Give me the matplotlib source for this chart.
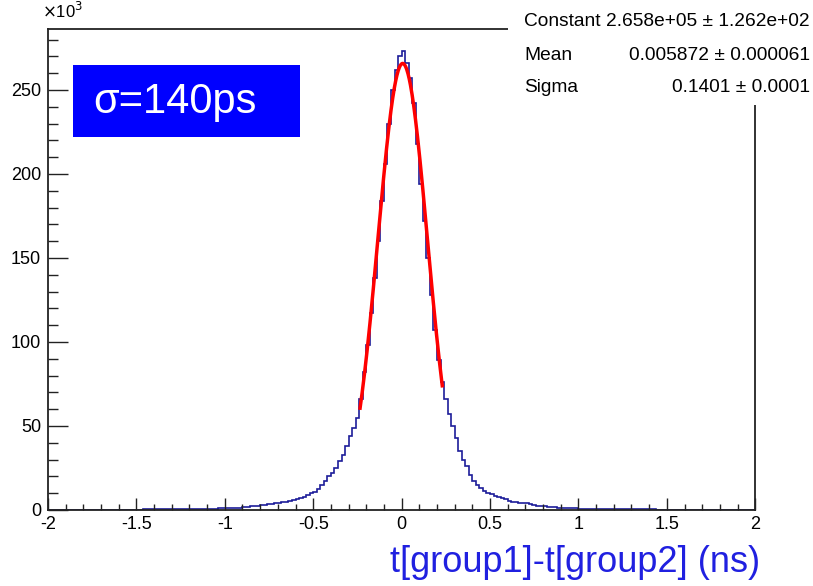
import numpy as np
import matplotlib.pyplot as plt
from matplotlib.patches import Rectangle
from matplotlib.ticker import MultipleLocator

plt.rcParams['font.family'] = ['Liberation Sans', 'DejaVu Sans']

# Histogram of t[group1]-t[group2], 200 bins from -2 to 2 ns, counts in units of 10^3
bin_edges = np.linspace(-2, 2, 201)
tail_left = [0.1, 0.1, 0.1, 0.1, 0.1, 0.1, 0.1, 0.1, 0.1, 0.1,
             0.1, 0.1, 0.1, 0.1, 0.2, 0.2, 0.2, 0.2, 0.2, 0.2,
             0.2, 0.2, 0.2, 0.2, 0.2, 0.2, 0.2, 0.3, 0.3, 0.3,
             0.3, 0.3, 0.3, 0.3, 0.3, 0.3, 0.3, 0.3, 0.3, 0.4,
             0.4, 0.4, 0.4, 0.4, 0.4, 0.4, 0.5]
core_left = [0.5, 0.9, 0.9, 1.0, 1.0, 1.1, 1.2, 1.3, 1.8, 2.0,
             2.2, 2.4, 2.6, 3.0, 3.2, 3.4, 3.7, 4.0, 4.4, 4.6,
             5.0, 5.5, 6.0, 6.4, 7.2, 8.0, 9.0, 10.0, 11.0, 12.5,
             15, 17, 20, 22, 25, 29, 33, 38, 44, 49,
             55, 66, 82, 98, 117, 138, 160, 184, 206, 230,
             250, 262, 270]
core_right = [273, 266, 257, 242, 218, 194, 172, 150, 128, 107,
              89, 76, 66, 57, 50, 43, 35, 30, 26, 21,
              17.5, 15, 13, 11.5, 10.3, 9.5, 8.5, 7.7, 7.0, 6.3,
              5.6, 5.0, 4.7, 4.4, 4.2, 4.0, 3.5, 3.0, 2.6, 2.4,
              2.2, 2.0, 1.8, 1.5, 1.4, 1.3, 1.2, 1.1, 1.0, 0.9,
              0.8, 0.6, 0.5]
tail_right = [0.5, 0.4, 0.4, 0.4, 0.4, 0.4, 0.4, 0.4, 0.3, 0.3,
              0.3, 0.3, 0.3, 0.3, 0.3, 0.3, 0.3, 0.3, 0.3, 0.2,
              0.2, 0.2, 0.2, 0.2, 0.2, 0.2, 0.2, 0.2, 0.2, 0.2,
              0.2, 0.2, 0.2, 0.1, 0.1, 0.1, 0.1, 0.1, 0.1, 0.1,
              0.1, 0.1, 0.1, 0.1, 0.1, 0.1, 0.1]
counts = tail_left + core_left + core_right + tail_right

# Gaussian fit parameters (from the stats box)
fit_const = 265.8
fit_mean = 0.005872
fit_sigma = 0.1401
fit_range = (-0.235, 0.23)

fig = plt.figure(figsize=(8.13, 5.86), dpi=100)
ax = fig.add_axes([0.059, 0.1297, 0.870, 0.8208])

ax.stairs(counts, bin_edges, color='#1c1c99', linewidth=1.2)
xf = np.linspace(fit_range[0], fit_range[1], 200)
ax.plot(xf, fit_const * np.exp(-0.5 * ((xf - fit_mean) / fit_sigma) ** 2),
        color='#ff0000', linewidth=2.5)

ax.set_xlim(-2, 2)
ax.set_ylim(0, 286.3)
ax.xaxis.set_minor_locator(MultipleLocator(0.1))
ax.yaxis.set_major_locator(MultipleLocator(50))
ax.yaxis.set_minor_locator(MultipleLocator(10))
ax.set_xticks([-2, -1.5, -1, -0.5, 0, 0.5, 1, 1.5, 2])
ax.set_xticklabels(['-2', '-1.5', '-1', '-0.5', '0', '0.5', '1', '1.5', '2'])
ax.tick_params(axis='both', which='both', direction='in', top=False, right=False,
               labelsize=13, width=1.0, color='#222222')
ax.tick_params(axis='x', which='major', length=8.6, pad=4)
ax.tick_params(axis='x', which='minor', length=4.3)
ax.tick_params(axis='y', which='major', length=14.4, pad=5)
ax.tick_params(axis='y', which='minor', length=7.2)
for s in ax.spines.values():
    s.set_linewidth(1.3)
    s.set_color('#222222')

fig.text(0.052, 0.965, r'$\times$10$^3$', fontsize=12, ha='left', va='bottom')

# sigma label box
ax.add_patch(Rectangle((0.0354, 0.775), 0.3210, 0.150, transform=ax.transAxes,
                       facecolor='#0000ff', edgecolor='none', zorder=4))
ax.text(0.064, 0.848, 'σ=140ps', transform=ax.transAxes, fontsize=30, color='white',
        ha='left', va='center', zorder=5)

# stats box
fig.patches.append(Rectangle((0.625, 0.821), 0.375, 0.179, transform=fig.transFigure,
                             facecolor='white', edgecolor='none', zorder=5, figure=fig))
rows = [('Constant', '2.658e+05 ± 1.262e+02'),
        ('Mean', '0.005872 ± 0.000061'),
        ('Sigma', '0.1401 ± 0.0001')]
for i, (name, val) in enumerate(rows):
    y = 1 - (22 + i * 33) / 586
    fig.text(524 / 813, y, name, fontsize=13.8, ha='left', va='center', zorder=6)
    fig.text(810 / 813, y, val, fontsize=13.8, ha='right', va='center', zorder=6)

fig.text(0.935, 0.040, 't[group1]-t[group2] (ns)', fontsize=26, color='#2020e0',
         ha='right', va='center')

fig.savefig('out.png', dpi=100)
